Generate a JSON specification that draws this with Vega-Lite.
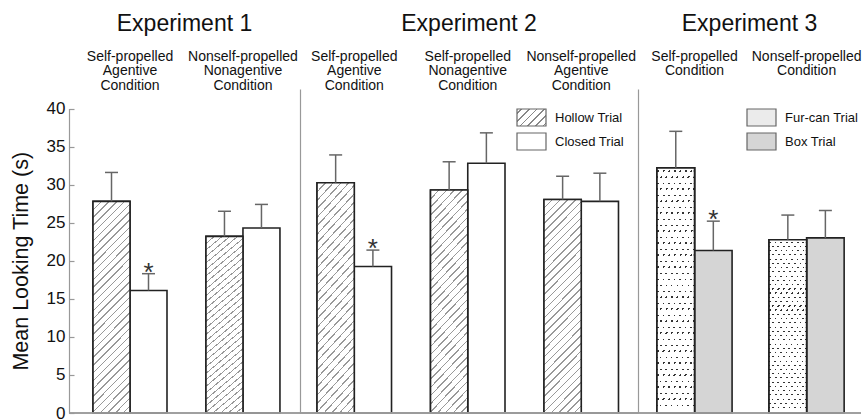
{
"$schema": "https://vega.github.io/schema/vega-lite/v6.json",
"padding": {"left": 10, "top": 13, "right": 0, "bottom": 0},
"autosize": {"type": "pad"},
"background": "white",
"data": {"values": [
{"exp":"E1","cond":"Self-propelled|Agentive|Condition","trial":"Hollow Trial","mean":27.8,"upper":31.6,"sig":""},
{"exp":"E1","cond":"Self-propelled|Agentive|Condition","trial":"Closed Trial","mean":16.1,"upper":18.3,"sig":"*"},
{"exp":"E1","cond":"Nonself-propelled|Nonagentive|Condition","trial":"Hollow Trial","mean":23.2,"upper":26.5,"sig":""},
{"exp":"E1","cond":"Nonself-propelled|Nonagentive|Condition","trial":"Closed Trial","mean":24.3,"upper":27.4,"sig":""},
{"exp":"E2","cond":"Self-propelled|Agentive|Condition","trial":"Hollow Trial","mean":30.25,"upper":33.9,"sig":""},
{"exp":"E2","cond":"Self-propelled|Agentive|Condition","trial":"Closed Trial","mean":19.25,"upper":21.4,"sig":"*"},
{"exp":"E2","cond":"Self-propelled|Nonagentive|Condition","trial":"Hollow Trial","mean":29.3,"upper":33.0,"sig":""},
{"exp":"E2","cond":"Self-propelled|Nonagentive|Condition","trial":"Closed Trial","mean":32.8,"upper":36.8,"sig":""},
{"exp":"E2","cond":"Nonself-propelled|Agentive|Condition","trial":"Hollow Trial","mean":28.05,"upper":31.1,"sig":""},
{"exp":"E2","cond":"Nonself-propelled|Agentive|Condition","trial":"Closed Trial","mean":27.8,"upper":31.5,"sig":""},
{"exp":"E3","cond":"Self-propelled|Condition","trial":"Fur-can Trial","mean":32.2,"upper":37.0,"sig":""},
{"exp":"E3","cond":"Self-propelled|Condition","trial":"Box Trial","mean":21.35,"upper":25.2,"sig":"*"},
{"exp":"E3","cond":"Nonself-propelled|Condition","trial":"Fur-can Trial","mean":22.75,"upper":26.0,"sig":""},
{"exp":"E3","cond":"Nonself-propelled|Condition","trial":"Box Trial","mean":23.0,"upper":26.6,"sig":""}
]},
"spacing": 0,
"bounds": "flush",
"resolve": {"scale": {"xOffset": "independent", "fill": "independent"}, "legend": {"fill": "independent"}},
"hconcat": [
{
 "width": 231, "height": 324,
 "title": {"text": "Experiment 1"},
 "transform": [{"filter": "datum.exp === 'E1'"}],
 "layer": [
  {
   "encoding": {
    "x": {"field": "cond", "type": "nominal",
     "scale": {"domain": ["Self-propelled|Agentive|Condition", "Nonself-propelled|Nonagentive|Condition"], "paddingInner": 0.345, "paddingOuter": 0.195, "align": 0.545},
     "axis": {"orient": "top", "title": null, "domain": false, "ticks": false, "labelExpr": "split(datum.label, '|')", "labelBaseline": "top", "labelPadding": 40, "labelFontSize": 14, "labelLineHeight": 14.5, "labelAngle": 0, "labelColor": "#111", "labelOverlap": false, "labelLimit": 250}},
    "xOffset": {"field": "trial", "type": "nominal", "scale": {"domain": ["Hollow Trial", "Closed Trial"], "paddingInner": 0, "paddingOuter": 0}}
   },
   "layer": [
    {"mark": {"type": "bar", "stroke": "#222", "strokeWidth": 1.6, "fill": "#ffffff"},
     "encoding": {
      "y": {"field": "mean", "type": "quantitative", "scale": {"domain": [0, 40], "range": [324, 19.5], "nice": false},
       "axis": {"title": "Mean Looking Time (s)", "values": [0,5,10,15,20,25,30,35,40], "domainColor": "#999", "domainWidth": 1.2, "tickColor": "#999", "tickWidth": 1.2, "tickSize": -5, "labelPadding": 9, "labelFontSize": 17, "labelColor": "#111", "titleFontSize": 21.5, "titleFontWeight": "normal", "titleColor": "#111", "titlePadding": 14}}
     }},
    {"transform": [{"filter": "datum.trial === 'Hollow Trial'"}],
     "mark": {"type": "bar", "stroke": "#222", "strokeWidth": 1.6, "fill": {"gradient": "linear", "x1": 0, "y1": 0, "x2": 0.2007, "y2": 1.1406, "stops": [
{"offset":0,"color":"#999"},{"offset":0.006,"color":"#999"},{"offset":0.006,"color":"#fff"},{"offset":0.03125,"color":"#fff"},
{"offset":0.03125,"color":"#999"},{"offset":0.03725,"color":"#999"},{"offset":0.03725,"color":"#fff"},{"offset":0.0625,"color":"#fff"},
{"offset":0.0625,"color":"#999"},{"offset":0.0685,"color":"#999"},{"offset":0.0685,"color":"#fff"},{"offset":0.09375,"color":"#fff"},
{"offset":0.09375,"color":"#999"},{"offset":0.09975,"color":"#999"},{"offset":0.09975,"color":"#fff"},{"offset":0.125,"color":"#fff"},
{"offset":0.125,"color":"#999"},{"offset":0.131,"color":"#999"},{"offset":0.131,"color":"#fff"},{"offset":0.15625,"color":"#fff"},
{"offset":0.15625,"color":"#999"},{"offset":0.16225,"color":"#999"},{"offset":0.16225,"color":"#fff"},{"offset":0.1875,"color":"#fff"},
{"offset":0.1875,"color":"#999"},{"offset":0.1935,"color":"#999"},{"offset":0.1935,"color":"#fff"},{"offset":0.21875,"color":"#fff"},
{"offset":0.21875,"color":"#999"},{"offset":0.22475,"color":"#999"},{"offset":0.22475,"color":"#fff"},{"offset":0.25,"color":"#fff"},
{"offset":0.25,"color":"#999"},{"offset":0.256,"color":"#999"},{"offset":0.256,"color":"#fff"},{"offset":0.28125,"color":"#fff"},
{"offset":0.28125,"color":"#999"},{"offset":0.28725,"color":"#999"},{"offset":0.28725,"color":"#fff"},{"offset":0.3125,"color":"#fff"},
{"offset":0.3125,"color":"#999"},{"offset":0.3185,"color":"#999"},{"offset":0.3185,"color":"#fff"},{"offset":0.34375,"color":"#fff"},
{"offset":0.34375,"color":"#999"},{"offset":0.34975,"color":"#999"},{"offset":0.34975,"color":"#fff"},{"offset":0.375,"color":"#fff"},
{"offset":0.375,"color":"#999"},{"offset":0.381,"color":"#999"},{"offset":0.381,"color":"#fff"},{"offset":0.40625,"color":"#fff"},
{"offset":0.40625,"color":"#999"},{"offset":0.41225,"color":"#999"},{"offset":0.41225,"color":"#fff"},{"offset":0.4375,"color":"#fff"},
{"offset":0.4375,"color":"#999"},{"offset":0.4435,"color":"#999"},{"offset":0.4435,"color":"#fff"},{"offset":0.46875,"color":"#fff"},
{"offset":0.46875,"color":"#999"},{"offset":0.47475,"color":"#999"},{"offset":0.47475,"color":"#fff"},{"offset":0.5,"color":"#fff"},
{"offset":0.5,"color":"#999"},{"offset":0.506,"color":"#999"},{"offset":0.506,"color":"#fff"},{"offset":0.53125,"color":"#fff"},
{"offset":0.53125,"color":"#999"},{"offset":0.53725,"color":"#999"},{"offset":0.53725,"color":"#fff"},{"offset":0.5625,"color":"#fff"},
{"offset":0.5625,"color":"#999"},{"offset":0.5685,"color":"#999"},{"offset":0.5685,"color":"#fff"},{"offset":0.59375,"color":"#fff"},
{"offset":0.59375,"color":"#999"},{"offset":0.59975,"color":"#999"},{"offset":0.59975,"color":"#fff"},{"offset":0.625,"color":"#fff"},
{"offset":0.625,"color":"#999"},{"offset":0.631,"color":"#999"},{"offset":0.631,"color":"#fff"},{"offset":0.65625,"color":"#fff"},
{"offset":0.65625,"color":"#999"},{"offset":0.66225,"color":"#999"},{"offset":0.66225,"color":"#fff"},{"offset":0.6875,"color":"#fff"},
{"offset":0.6875,"color":"#999"},{"offset":0.6935,"color":"#999"},{"offset":0.6935,"color":"#fff"},{"offset":0.71875,"color":"#fff"},
{"offset":0.71875,"color":"#999"},{"offset":0.72475,"color":"#999"},{"offset":0.72475,"color":"#fff"},{"offset":0.75,"color":"#fff"},
{"offset":0.75,"color":"#999"},{"offset":0.756,"color":"#999"},{"offset":0.756,"color":"#fff"},{"offset":0.78125,"color":"#fff"},
{"offset":0.78125,"color":"#999"},{"offset":0.78725,"color":"#999"},{"offset":0.78725,"color":"#fff"},{"offset":0.8125,"color":"#fff"},
{"offset":0.8125,"color":"#999"},{"offset":0.8185,"color":"#999"},{"offset":0.8185,"color":"#fff"},{"offset":0.84375,"color":"#fff"},
{"offset":0.84375,"color":"#999"},{"offset":0.84975,"color":"#999"},{"offset":0.84975,"color":"#fff"},{"offset":0.875,"color":"#fff"},
{"offset":0.875,"color":"#999"},{"offset":0.881,"color":"#999"},{"offset":0.881,"color":"#fff"},{"offset":0.90625,"color":"#fff"},
{"offset":0.90625,"color":"#999"},{"offset":0.91225,"color":"#999"},{"offset":0.91225,"color":"#fff"},{"offset":0.9375,"color":"#fff"},
{"offset":0.9375,"color":"#999"},{"offset":0.9435,"color":"#999"},{"offset":0.9435,"color":"#fff"},{"offset":0.96875,"color":"#fff"},
{"offset":0.96875,"color":"#999"},{"offset":0.97475,"color":"#999"},{"offset":0.97475,"color":"#fff"},{"offset":1,"color":"#fff"}
     ]}},
     "encoding": {"y": {"field": "mean", "type": "quantitative"}}},
    {"mark": {"type": "rule", "color": "#666", "strokeWidth": 1.5},
     "encoding": {"y": {"field": "mean", "type": "quantitative"}, "y2": {"field": "upper"}}},
    {"mark": {"type": "tick", "color": "#666", "thickness": 1.5, "size": 13, "opacity": 1},
     "encoding": {"y": {"field": "upper", "type": "quantitative"}}},
    {"transform": [{"filter": "datum.sig !== ''"}],
     "mark": {"type": "text", "fontSize": 26, "baseline": "alphabetic", "dy": 7, "color": "#333"},
     "encoding": {"y": {"field": "upper", "type": "quantitative"}, "text": {"field": "sig"}}}
   ]
  },
  {"mark": {"type": "rule", "color": "#999", "strokeWidth": 1.2}, "encoding": {"y": {"datum": 0}}}
 ]
},
{
 "width": 338, "height": 324,
 "title": {"text": "Experiment 2"},
 "transform": [{"filter": "datum.exp === 'E2'"}],
 "layer": [
  {
   "encoding": {
    "x": {"field": "cond", "type": "nominal",
     "scale": {"domain": ["Self-propelled|Agentive|Condition", "Self-propelled|Nonagentive|Condition", "Nonself-propelled|Agentive|Condition"], "paddingInner": 0.3436, "paddingOuter": 0.161, "align": 0.466},
     "axis": {"orient": "top", "title": null, "domain": false, "ticks": false, "labelExpr": "split(datum.label, '|')", "labelBaseline": "top", "labelPadding": 40, "labelFontSize": 14, "labelLineHeight": 14.5, "labelAngle": 0, "labelColor": "#111", "labelOverlap": false, "labelLimit": 250}},
    "xOffset": {"field": "trial", "type": "nominal", "scale": {"domain": ["Hollow Trial", "Closed Trial"], "paddingInner": 0, "paddingOuter": 0}}
   },
   "layer": [
    {"mark": {"type": "bar", "stroke": "#222", "strokeWidth": 1.6},
     "encoding": {
      "y": {"field": "mean", "type": "quantitative", "scale": {"domain": [0, 42.56], "nice": false},
       "axis": {"title": null, "labels": false, "ticks": false, "domainColor": "#999", "domainWidth": 1.2}},
      "fill": {"field": "trial", "type": "nominal", "scale": {"domain": ["Hollow Trial", "Closed Trial"], "range": [{"expr": "{gradient: 'linear', x1: 0, y1: 0, x2: 1.181, y2: 0.692, stops: [{offset: 0, color: '#fff'}, {offset: 0.0833, color: '#fff'}, {offset: 0.0833, color: '#888'}, {offset: 0.1163, color: '#888'}, {offset: 0.1163, color: '#fff'}, {offset: 0.25, color: '#fff'}, {offset: 0.25, color: '#888'}, {offset: 0.283, color: '#888'}, {offset: 0.283, color: '#fff'}, {offset: 0.4167, color: '#fff'}, {offset: 0.4167, color: '#888'}, {offset: 0.4497, color: '#888'}, {offset: 0.4497, color: '#fff'}, {offset: 0.5833, color: '#fff'}, {offset: 0.5833, color: '#888'}, {offset: 0.6163, color: '#888'}, {offset: 0.6163, color: '#fff'}, {offset: 0.75, color: '#fff'}, {offset: 0.75, color: '#888'}, {offset: 0.783, color: '#888'}, {offset: 0.783, color: '#fff'}, {offset: 0.9167, color: '#fff'}, {offset: 0.9167, color: '#888'}, {offset: 0.9497, color: '#888'}, {offset: 0.9497, color: '#fff'}, {offset: 1, color: '#fff'}]}"}, "#ffffff"]},
       "legend": {"orient": "none", "legendX": 216, "legendY": 17.5, "title": null, "symbolType": "M-1,-0.85H1.9V0.85H-1Z", "symbolSize": 400, "symbolStrokeColor": "#666", "symbolStrokeWidth": 1.2, "labelFontSize": 13, "labelColor": "#111", "labelOffset": 17, "rowPadding": 2, "padding": 0}}
     }},
    {"transform": [{"filter": "datum.trial === 'Hollow Trial'"}],
     "mark": {"type": "bar", "stroke": "#222", "strokeWidth": 1.6, "fill": {"gradient": "linear", "x1": 0, "y1": 0, "x2": 0.2007, "y2": 1.1406, "stops": [
{"offset":0,"color":"#999"},{"offset":0.006,"color":"#999"},{"offset":0.006,"color":"#fff"},{"offset":0.03125,"color":"#fff"},
{"offset":0.03125,"color":"#999"},{"offset":0.03725,"color":"#999"},{"offset":0.03725,"color":"#fff"},{"offset":0.0625,"color":"#fff"},
{"offset":0.0625,"color":"#999"},{"offset":0.0685,"color":"#999"},{"offset":0.0685,"color":"#fff"},{"offset":0.09375,"color":"#fff"},
{"offset":0.09375,"color":"#999"},{"offset":0.09975,"color":"#999"},{"offset":0.09975,"color":"#fff"},{"offset":0.125,"color":"#fff"},
{"offset":0.125,"color":"#999"},{"offset":0.131,"color":"#999"},{"offset":0.131,"color":"#fff"},{"offset":0.15625,"color":"#fff"},
{"offset":0.15625,"color":"#999"},{"offset":0.16225,"color":"#999"},{"offset":0.16225,"color":"#fff"},{"offset":0.1875,"color":"#fff"},
{"offset":0.1875,"color":"#999"},{"offset":0.1935,"color":"#999"},{"offset":0.1935,"color":"#fff"},{"offset":0.21875,"color":"#fff"},
{"offset":0.21875,"color":"#999"},{"offset":0.22475,"color":"#999"},{"offset":0.22475,"color":"#fff"},{"offset":0.25,"color":"#fff"},
{"offset":0.25,"color":"#999"},{"offset":0.256,"color":"#999"},{"offset":0.256,"color":"#fff"},{"offset":0.28125,"color":"#fff"},
{"offset":0.28125,"color":"#999"},{"offset":0.28725,"color":"#999"},{"offset":0.28725,"color":"#fff"},{"offset":0.3125,"color":"#fff"},
{"offset":0.3125,"color":"#999"},{"offset":0.3185,"color":"#999"},{"offset":0.3185,"color":"#fff"},{"offset":0.34375,"color":"#fff"},
{"offset":0.34375,"color":"#999"},{"offset":0.34975,"color":"#999"},{"offset":0.34975,"color":"#fff"},{"offset":0.375,"color":"#fff"},
{"offset":0.375,"color":"#999"},{"offset":0.381,"color":"#999"},{"offset":0.381,"color":"#fff"},{"offset":0.40625,"color":"#fff"},
{"offset":0.40625,"color":"#999"},{"offset":0.41225,"color":"#999"},{"offset":0.41225,"color":"#fff"},{"offset":0.4375,"color":"#fff"},
{"offset":0.4375,"color":"#999"},{"offset":0.4435,"color":"#999"},{"offset":0.4435,"color":"#fff"},{"offset":0.46875,"color":"#fff"},
{"offset":0.46875,"color":"#999"},{"offset":0.47475,"color":"#999"},{"offset":0.47475,"color":"#fff"},{"offset":0.5,"color":"#fff"},
{"offset":0.5,"color":"#999"},{"offset":0.506,"color":"#999"},{"offset":0.506,"color":"#fff"},{"offset":0.53125,"color":"#fff"},
{"offset":0.53125,"color":"#999"},{"offset":0.53725,"color":"#999"},{"offset":0.53725,"color":"#fff"},{"offset":0.5625,"color":"#fff"},
{"offset":0.5625,"color":"#999"},{"offset":0.5685,"color":"#999"},{"offset":0.5685,"color":"#fff"},{"offset":0.59375,"color":"#fff"},
{"offset":0.59375,"color":"#999"},{"offset":0.59975,"color":"#999"},{"offset":0.59975,"color":"#fff"},{"offset":0.625,"color":"#fff"},
{"offset":0.625,"color":"#999"},{"offset":0.631,"color":"#999"},{"offset":0.631,"color":"#fff"},{"offset":0.65625,"color":"#fff"},
{"offset":0.65625,"color":"#999"},{"offset":0.66225,"color":"#999"},{"offset":0.66225,"color":"#fff"},{"offset":0.6875,"color":"#fff"},
{"offset":0.6875,"color":"#999"},{"offset":0.6935,"color":"#999"},{"offset":0.6935,"color":"#fff"},{"offset":0.71875,"color":"#fff"},
{"offset":0.71875,"color":"#999"},{"offset":0.72475,"color":"#999"},{"offset":0.72475,"color":"#fff"},{"offset":0.75,"color":"#fff"},
{"offset":0.75,"color":"#999"},{"offset":0.756,"color":"#999"},{"offset":0.756,"color":"#fff"},{"offset":0.78125,"color":"#fff"},
{"offset":0.78125,"color":"#999"},{"offset":0.78725,"color":"#999"},{"offset":0.78725,"color":"#fff"},{"offset":0.8125,"color":"#fff"},
{"offset":0.8125,"color":"#999"},{"offset":0.8185,"color":"#999"},{"offset":0.8185,"color":"#fff"},{"offset":0.84375,"color":"#fff"},
{"offset":0.84375,"color":"#999"},{"offset":0.84975,"color":"#999"},{"offset":0.84975,"color":"#fff"},{"offset":0.875,"color":"#fff"},
{"offset":0.875,"color":"#999"},{"offset":0.881,"color":"#999"},{"offset":0.881,"color":"#fff"},{"offset":0.90625,"color":"#fff"},
{"offset":0.90625,"color":"#999"},{"offset":0.91225,"color":"#999"},{"offset":0.91225,"color":"#fff"},{"offset":0.9375,"color":"#fff"},
{"offset":0.9375,"color":"#999"},{"offset":0.9435,"color":"#999"},{"offset":0.9435,"color":"#fff"},{"offset":0.96875,"color":"#fff"},
{"offset":0.96875,"color":"#999"},{"offset":0.97475,"color":"#999"},{"offset":0.97475,"color":"#fff"},{"offset":1,"color":"#fff"}
     ]}},
     "encoding": {"y": {"field": "mean", "type": "quantitative"}}},
    {"mark": {"type": "rule", "color": "#666", "strokeWidth": 1.5},
     "encoding": {"y": {"field": "mean", "type": "quantitative"}, "y2": {"field": "upper"}}},
    {"mark": {"type": "tick", "color": "#666", "thickness": 1.5, "size": 13, "opacity": 1},
     "encoding": {"y": {"field": "upper", "type": "quantitative"}}},
    {"transform": [{"filter": "datum.sig !== ''"}],
     "mark": {"type": "text", "fontSize": 26, "baseline": "alphabetic", "dy": 7, "color": "#333"},
     "encoding": {"y": {"field": "upper", "type": "quantitative"}, "text": {"field": "sig"}}}
   ]
  },
  {"mark": {"type": "rule", "color": "#999", "strokeWidth": 1.2}, "encoding": {"y": {"datum": 0}}}
 ]
},
{
 "width": 223, "height": 324,
 "title": {"text": "Experiment 3"},
 "transform": [{"filter": "datum.exp === 'E3'"}],
 "layer": [
  {
   "encoding": {
    "x": {"field": "cond", "type": "nominal",
     "scale": {"domain": ["Self-propelled|Condition", "Nonself-propelled|Condition"], "paddingInner": 0.33, "paddingOuter": 0.16, "align": 0.53},
     "axis": {"orient": "top", "title": null, "domain": false, "ticks": false, "labelExpr": "split(datum.label, '|')", "labelBaseline": "top", "labelPadding": 40, "labelFontSize": 14, "labelLineHeight": 14.5, "labelAngle": 0, "labelColor": "#111", "labelOverlap": false, "labelLimit": 250}},
    "xOffset": {"field": "trial", "type": "nominal", "scale": {"domain": ["Fur-can Trial", "Box Trial"], "paddingInner": 0, "paddingOuter": 0}}
   },
   "layer": [
    {"mark": {"type": "bar", "stroke": "#222", "strokeWidth": 1.6},
     "encoding": {
      "y": {"field": "mean", "type": "quantitative", "scale": {"domain": [0, 42.56], "nice": false},
       "axis": {"title": null, "labels": false, "ticks": false, "domainColor": "#999", "domainWidth": 1.2}},
      "fill": {"field": "trial", "type": "nominal", "scale": {"domain": ["Fur-can Trial", "Box Trial"], "range": ["#ebebeb", "#d5d5d5"]},
       "legend": {"orient": "none", "legendX": 108, "legendY": 17.5, "title": null, "symbolType": "M-1,-0.85H1.9V0.85H-1Z", "symbolSize": 400, "symbolStrokeColor": "#666", "symbolStrokeWidth": 1.2, "labelFontSize": 13, "labelColor": "#111", "labelOffset": 17, "rowPadding": 2, "padding": 0}}
     }},
    {"transform": [{"filter": "datum.trial === 'Fur-can Trial'"}],
     "mark": {"type": "bar", "stroke": "#222", "strokeWidth": 1.6, "fill": {"gradient": "linear", "x1": 0, "y1": 0, "x2": 0.4, "y2": 1.2, "stops": [
{"offset":0,"color":"#fff"},
{"offset":0.012,"color":"#fff"},{"offset":0.012,"color":"#333"},{"offset":0.023,"color":"#333"},{"offset":0.023,"color":"#fff"},
{"offset":0.05,"color":"#fff"},{"offset":0.05,"color":"#333"},{"offset":0.061,"color":"#333"},{"offset":0.061,"color":"#fff"},
{"offset":0.085,"color":"#fff"},{"offset":0.085,"color":"#333"},{"offset":0.096,"color":"#333"},{"offset":0.096,"color":"#fff"},
{"offset":0.124,"color":"#fff"},{"offset":0.124,"color":"#333"},{"offset":0.135,"color":"#333"},{"offset":0.135,"color":"#fff"},
{"offset":0.158,"color":"#fff"},{"offset":0.158,"color":"#333"},{"offset":0.169,"color":"#333"},{"offset":0.169,"color":"#fff"},
{"offset":0.197,"color":"#fff"},{"offset":0.197,"color":"#333"},{"offset":0.208,"color":"#333"},{"offset":0.208,"color":"#fff"},
{"offset":0.232,"color":"#fff"},{"offset":0.232,"color":"#333"},{"offset":0.243,"color":"#333"},{"offset":0.243,"color":"#fff"},
{"offset":0.27,"color":"#fff"},{"offset":0.27,"color":"#333"},{"offset":0.281,"color":"#333"},{"offset":0.281,"color":"#fff"},
{"offset":0.306,"color":"#fff"},{"offset":0.306,"color":"#333"},{"offset":0.317,"color":"#333"},{"offset":0.317,"color":"#fff"},
{"offset":0.343,"color":"#fff"},{"offset":0.343,"color":"#333"},{"offset":0.354,"color":"#333"},{"offset":0.354,"color":"#fff"},
{"offset":0.379,"color":"#fff"},{"offset":0.379,"color":"#333"},{"offset":0.39,"color":"#333"},{"offset":0.39,"color":"#fff"},
{"offset":0.418,"color":"#fff"},{"offset":0.418,"color":"#333"},{"offset":0.429,"color":"#333"},{"offset":0.429,"color":"#fff"},
{"offset":0.452,"color":"#fff"},{"offset":0.452,"color":"#333"},{"offset":0.463,"color":"#333"},{"offset":0.463,"color":"#fff"},
{"offset":0.49,"color":"#fff"},{"offset":0.49,"color":"#333"},{"offset":0.501,"color":"#333"},{"offset":0.501,"color":"#fff"},
{"offset":0.525,"color":"#fff"},{"offset":0.525,"color":"#333"},{"offset":0.536,"color":"#333"},{"offset":0.536,"color":"#fff"},
{"offset":0.563,"color":"#fff"},{"offset":0.563,"color":"#333"},{"offset":0.574,"color":"#333"},{"offset":0.574,"color":"#fff"},
{"offset":0.598,"color":"#fff"},{"offset":0.598,"color":"#333"},{"offset":0.609,"color":"#333"},{"offset":0.609,"color":"#fff"},
{"offset":0.637,"color":"#fff"},{"offset":0.637,"color":"#333"},{"offset":0.648,"color":"#333"},{"offset":0.648,"color":"#fff"},
{"offset":0.672,"color":"#fff"},{"offset":0.672,"color":"#333"},{"offset":0.683,"color":"#333"},{"offset":0.683,"color":"#fff"},
{"offset":0.71,"color":"#fff"},{"offset":0.71,"color":"#333"},{"offset":0.721,"color":"#333"},{"offset":0.721,"color":"#fff"},
{"offset":0.745,"color":"#fff"},{"offset":0.745,"color":"#333"},{"offset":0.756,"color":"#333"},{"offset":0.756,"color":"#fff"},
{"offset":0.783,"color":"#fff"},{"offset":0.783,"color":"#333"},{"offset":0.794,"color":"#333"},{"offset":0.794,"color":"#fff"},
{"offset":0.818,"color":"#fff"},{"offset":0.818,"color":"#333"},{"offset":0.829,"color":"#333"},{"offset":0.829,"color":"#fff"},
{"offset":0.857,"color":"#fff"},{"offset":0.857,"color":"#333"},{"offset":0.868,"color":"#333"},{"offset":0.868,"color":"#fff"},
{"offset":0.892,"color":"#fff"},{"offset":0.892,"color":"#333"},{"offset":0.903,"color":"#333"},{"offset":0.903,"color":"#fff"},
{"offset":0.93,"color":"#fff"},{"offset":0.93,"color":"#333"},{"offset":0.941,"color":"#333"},{"offset":0.941,"color":"#fff"},
{"offset":0.965,"color":"#fff"},{"offset":0.965,"color":"#333"},{"offset":0.976,"color":"#333"},{"offset":0.976,"color":"#fff"},
{"offset":1,"color":"#fff"}
     ]}},
     "encoding": {"y": {"field": "mean", "type": "quantitative"}}},
    {"transform": [{"filter": "datum.trial === 'Fur-can Trial'"}],
     "mark": {"type": "bar", "stroke": "#222", "strokeWidth": 1.6, "fill": {"gradient": "linear", "x1": 0, "y1": 0, "x2": 0, "y2": 1, "stops": [
{"offset":0,"color":"#fff"},
{"offset":0.010,"color":"#fff"},{"offset":0.010,"color":"rgba(255,255,255,0)"},{"offset":0.0165,"color":"rgba(255,255,255,0)"},{"offset":0.0165,"color":"#fff"},
{"offset":0.033,"color":"#fff"},{"offset":0.033,"color":"rgba(255,255,255,0)"},{"offset":0.0395,"color":"rgba(255,255,255,0)"},{"offset":0.0395,"color":"#fff"},
{"offset":0.060,"color":"#fff"},{"offset":0.060,"color":"rgba(255,255,255,0)"},{"offset":0.0665,"color":"rgba(255,255,255,0)"},{"offset":0.0665,"color":"#fff"},
{"offset":0.084,"color":"#fff"},{"offset":0.084,"color":"rgba(255,255,255,0)"},{"offset":0.0905,"color":"rgba(255,255,255,0)"},{"offset":0.0905,"color":"#fff"},
{"offset":0.110,"color":"#fff"},{"offset":0.110,"color":"rgba(255,255,255,0)"},{"offset":0.1165,"color":"rgba(255,255,255,0)"},{"offset":0.1165,"color":"#fff"},
{"offset":0.133,"color":"#fff"},{"offset":0.133,"color":"rgba(255,255,255,0)"},{"offset":0.1395,"color":"rgba(255,255,255,0)"},{"offset":0.1395,"color":"#fff"},
{"offset":0.158,"color":"#fff"},{"offset":0.158,"color":"rgba(255,255,255,0)"},{"offset":0.1645,"color":"rgba(255,255,255,0)"},{"offset":0.1645,"color":"#fff"},
{"offset":0.181,"color":"#fff"},{"offset":0.181,"color":"rgba(255,255,255,0)"},{"offset":0.1875,"color":"rgba(255,255,255,0)"},{"offset":0.1875,"color":"#fff"},
{"offset":0.207,"color":"#fff"},{"offset":0.207,"color":"rgba(255,255,255,0)"},{"offset":0.2135,"color":"rgba(255,255,255,0)"},{"offset":0.2135,"color":"#fff"},
{"offset":0.232,"color":"#fff"},{"offset":0.232,"color":"rgba(255,255,255,0)"},{"offset":0.2385,"color":"rgba(255,255,255,0)"},{"offset":0.2385,"color":"#fff"},
{"offset":0.255,"color":"#fff"},{"offset":0.255,"color":"rgba(255,255,255,0)"},{"offset":0.2615,"color":"rgba(255,255,255,0)"},{"offset":0.2615,"color":"#fff"},
{"offset":0.281,"color":"#fff"},{"offset":0.281,"color":"rgba(255,255,255,0)"},{"offset":0.2875,"color":"rgba(255,255,255,0)"},{"offset":0.2875,"color":"#fff"},
{"offset":0.304,"color":"#fff"},{"offset":0.304,"color":"rgba(255,255,255,0)"},{"offset":0.3105,"color":"rgba(255,255,255,0)"},{"offset":0.3105,"color":"#fff"},
{"offset":0.330,"color":"#fff"},{"offset":0.330,"color":"rgba(255,255,255,0)"},{"offset":0.3365,"color":"rgba(255,255,255,0)"},{"offset":0.3365,"color":"#fff"},
{"offset":0.353,"color":"#fff"},{"offset":0.353,"color":"rgba(255,255,255,0)"},{"offset":0.3595,"color":"rgba(255,255,255,0)"},{"offset":0.3595,"color":"#fff"},
{"offset":0.379,"color":"#fff"},{"offset":0.379,"color":"rgba(255,255,255,0)"},{"offset":0.3855,"color":"rgba(255,255,255,0)"},{"offset":0.3855,"color":"#fff"},
{"offset":0.402,"color":"#fff"},{"offset":0.402,"color":"rgba(255,255,255,0)"},{"offset":0.4085,"color":"rgba(255,255,255,0)"},{"offset":0.4085,"color":"#fff"},
{"offset":0.428,"color":"#fff"},{"offset":0.428,"color":"rgba(255,255,255,0)"},{"offset":0.4345,"color":"rgba(255,255,255,0)"},{"offset":0.4345,"color":"#fff"},
{"offset":0.452,"color":"#fff"},{"offset":0.452,"color":"rgba(255,255,255,0)"},{"offset":0.4585,"color":"rgba(255,255,255,0)"},{"offset":0.4585,"color":"#fff"},
{"offset":0.476,"color":"#fff"},{"offset":0.476,"color":"rgba(255,255,255,0)"},{"offset":0.4825,"color":"rgba(255,255,255,0)"},{"offset":0.4825,"color":"#fff"},
{"offset":0.501,"color":"#fff"},{"offset":0.501,"color":"rgba(255,255,255,0)"},{"offset":0.5075,"color":"rgba(255,255,255,0)"},{"offset":0.5075,"color":"#fff"},
{"offset":0.524,"color":"#fff"},{"offset":0.524,"color":"rgba(255,255,255,0)"},{"offset":0.5305,"color":"rgba(255,255,255,0)"},{"offset":0.5305,"color":"#fff"},
{"offset":0.550,"color":"#fff"},{"offset":0.550,"color":"rgba(255,255,255,0)"},{"offset":0.5565,"color":"rgba(255,255,255,0)"},{"offset":0.5565,"color":"#fff"},
{"offset":0.573,"color":"#fff"},{"offset":0.573,"color":"rgba(255,255,255,0)"},{"offset":0.5795,"color":"rgba(255,255,255,0)"},{"offset":0.5795,"color":"#fff"},
{"offset":0.599,"color":"#fff"},{"offset":0.599,"color":"rgba(255,255,255,0)"},{"offset":0.6055,"color":"rgba(255,255,255,0)"},{"offset":0.6055,"color":"#fff"},
{"offset":0.622,"color":"#fff"},{"offset":0.622,"color":"rgba(255,255,255,0)"},{"offset":0.6285,"color":"rgba(255,255,255,0)"},{"offset":0.6285,"color":"#fff"},
{"offset":0.648,"color":"#fff"},{"offset":0.648,"color":"rgba(255,255,255,0)"},{"offset":0.6545,"color":"rgba(255,255,255,0)"},{"offset":0.6545,"color":"#fff"},
{"offset":0.671,"color":"#fff"},{"offset":0.671,"color":"rgba(255,255,255,0)"},{"offset":0.6775,"color":"rgba(255,255,255,0)"},{"offset":0.6775,"color":"#fff"},
{"offset":0.697,"color":"#fff"},{"offset":0.697,"color":"rgba(255,255,255,0)"},{"offset":0.7035,"color":"rgba(255,255,255,0)"},{"offset":0.7035,"color":"#fff"},
{"offset":0.721,"color":"#fff"},{"offset":0.721,"color":"rgba(255,255,255,0)"},{"offset":0.7275,"color":"rgba(255,255,255,0)"},{"offset":0.7275,"color":"#fff"},
{"offset":0.745,"color":"#fff"},{"offset":0.745,"color":"rgba(255,255,255,0)"},{"offset":0.7515,"color":"rgba(255,255,255,0)"},{"offset":0.7515,"color":"#fff"},
{"offset":0.770,"color":"#fff"},{"offset":0.770,"color":"rgba(255,255,255,0)"},{"offset":0.7765,"color":"rgba(255,255,255,0)"},{"offset":0.7765,"color":"#fff"},
{"offset":0.793,"color":"#fff"},{"offset":0.793,"color":"rgba(255,255,255,0)"},{"offset":0.7995,"color":"rgba(255,255,255,0)"},{"offset":0.7995,"color":"#fff"},
{"offset":0.819,"color":"#fff"},{"offset":0.819,"color":"rgba(255,255,255,0)"},{"offset":0.8255,"color":"rgba(255,255,255,0)"},{"offset":0.8255,"color":"#fff"},
{"offset":0.842,"color":"#fff"},{"offset":0.842,"color":"rgba(255,255,255,0)"},{"offset":0.8485,"color":"rgba(255,255,255,0)"},{"offset":0.8485,"color":"#fff"},
{"offset":0.868,"color":"#fff"},{"offset":0.868,"color":"rgba(255,255,255,0)"},{"offset":0.8745,"color":"rgba(255,255,255,0)"},{"offset":0.8745,"color":"#fff"},
{"offset":0.891,"color":"#fff"},{"offset":0.891,"color":"rgba(255,255,255,0)"},{"offset":0.8975,"color":"rgba(255,255,255,0)"},{"offset":0.8975,"color":"#fff"},
{"offset":0.917,"color":"#fff"},{"offset":0.917,"color":"rgba(255,255,255,0)"},{"offset":0.9235,"color":"rgba(255,255,255,0)"},{"offset":0.9235,"color":"#fff"},
{"offset":0.940,"color":"#fff"},{"offset":0.940,"color":"rgba(255,255,255,0)"},{"offset":0.9465,"color":"rgba(255,255,255,0)"},{"offset":0.9465,"color":"#fff"},
{"offset":0.966,"color":"#fff"},{"offset":0.966,"color":"rgba(255,255,255,0)"},{"offset":0.9725,"color":"rgba(255,255,255,0)"},{"offset":0.9725,"color":"#fff"},
{"offset":1,"color":"#fff"}
     ]}},
     "encoding": {"y": {"field": "mean", "type": "quantitative"}}},
    {"mark": {"type": "rule", "color": "#666", "strokeWidth": 1.5},
     "encoding": {"y": {"field": "mean", "type": "quantitative"}, "y2": {"field": "upper"}}},
    {"mark": {"type": "tick", "color": "#666", "thickness": 1.5, "size": 13, "opacity": 1},
     "encoding": {"y": {"field": "upper", "type": "quantitative"}}},
    {"transform": [{"filter": "datum.sig !== ''"}],
     "mark": {"type": "text", "fontSize": 26, "baseline": "alphabetic", "dy": 7, "color": "#333"},
     "encoding": {"y": {"field": "upper", "type": "quantitative"}, "text": {"field": "sig"}}}
   ]
  },
  {"mark": {"type": "rule", "color": "#999", "strokeWidth": 1.2}, "encoding": {"y": {"datum": 0}}}
 ]
}
],
"config": {
 "view": {"stroke": null},
 "font": "Liberation Sans",
 "axis": {"grid": false, "labelFont": "Liberation Sans", "titleFont": "Liberation Sans"},
 "legend": {"labelFont": "Liberation Sans"},
 "title": {"font": "Liberation Sans", "fontSize": 23, "fontWeight": "normal", "color": "#111", "offset": 13, "anchor": "middle"}
}
}
